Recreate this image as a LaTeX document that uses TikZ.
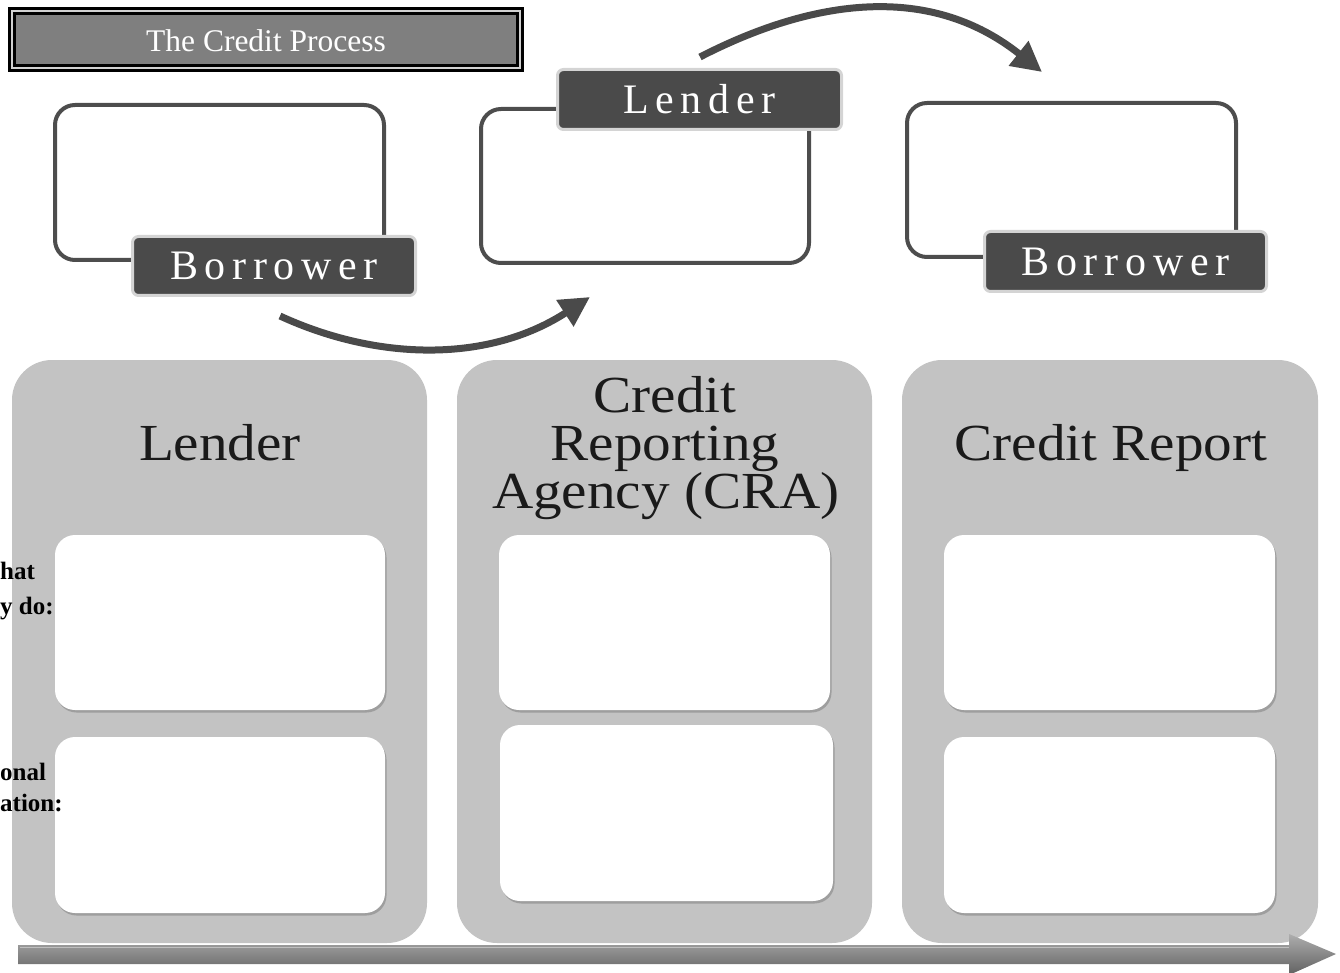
\documentclass[tikz,border=0pt]{standalone}
\usepackage{fontspec}
\setmainfont{Liberation Serif}
\newfontfamily\spaced[LetterSpace=16]{Liberation Serif}
\newfontfamily\wide[FakeStretch=1.1]{Liberation Serif}
\usetikzlibrary{arrows.meta}
\definecolor{dk}{HTML}{4A4A4A}
\definecolor{panel}{HTML}{C3C3C3}
\definecolor{titlegray}{HTML}{7F7F7F}
\definecolor{lblborder}{HTML}{D4D4D4}
\definecolor{outline}{HTML}{4D4D4D}
\definecolor{ink}{HTML}{1A1A1A}
\begin{document}
\begin{tikzpicture}[x=1pt,y=-1pt,
  panelbox/.style={fill=panel,draw=none,rounded corners=40pt,inner sep=0pt},
  outlinebox/.style={draw=outline,line width=4pt,rounded corners=20pt,fill=white,inner sep=0pt},
  labelbox/.style={fill=dk,draw=lblborder,line width=3pt,rounded corners=6pt,inner sep=0pt,
    text=white,font=\spaced\fontsize{42}{44}\selectfont},
  whitebox/.style={fill=white,rounded corners=20pt,inner sep=0pt,
    preaction={fill=black!38,transform canvas={shift={(1.5pt,-2.5pt)}}}},
  ptitle/.style={text=ink,font=\wide\fontsize{52}{52}\selectfont,inner sep=0pt,anchor=base},
  sidetext/.style={text=black,font=\bfseries\fontsize{25}{25}\selectfont,inner sep=0pt,anchor=base west},
  conn/.style={draw=dk,line width=7pt,-{Triangle[length=30pt,width=30pt]}}
]
\useasboundingbox (0,0) rectangle (1340,973);
\clip (0,0) rectangle (1340,973);

% title box
\fill[black] (8,7) rectangle (524,72);
\fill[black!18] (11,10) rectangle (521,69);
\fill[black] (13,12) rectangle (519,67);
\fill[titlegray] (16,15) rectangle (516,64);
\node[text=white,font=\fontsize{31.5}{32}\selectfont,inner sep=0pt,anchor=base] (title) at (266,52) {The Credit Process};

% top flow boxes
\node[outlinebox,minimum width=329pt,minimum height=155pt] (b1) at (219.5,182.5) {};
\node[outlinebox,minimum width=328pt,minimum height=154pt] (b2) at (645,186) {};
\node[outlinebox,minimum width=329pt,minimum height=154pt] (b3) at (1071.5,180) {};

\node[labelbox,minimum width=283pt,minimum height=59pt] (l1) at (274,266) {Borrower\hspace{-6.7pt}};
\node[labelbox,minimum width=284pt,minimum height=60pt] (l2) at (699.5,99.5) {Lender\hspace{-6.7pt}};
\node[labelbox,minimum width=282pt,minimum height=60pt] (l3) at (1125.5,261.5) {Borrower\hspace{-6.7pt}};

% curved arrows
\coordinate (a1s) at (280,316);
\coordinate (a1e) at (590,297);
\draw[conn] (a1s) .. controls (380,362) and (490,362) .. (a1e);
\coordinate (a2s) at (700,57);
\coordinate (a2e) at (1042,72);
\draw[conn] (a2s) .. controls (795,8) and (920,-25) .. (a2e);

% panels
\node[panelbox,minimum width=415pt,minimum height=583pt] (p1) at (219.5,651.5) {};
\node[panelbox,minimum width=415pt,minimum height=583pt] (p2) at (664.5,651.5) {};
\node[panelbox,minimum width=416pt,minimum height=583pt] (p3) at (1110,651.5) {};

\node[ptitle] (t1) at (220,460) {Lender};
\node[ptitle] (t2a) at (665,412) {Credit};
\node[ptitle] (t2b) at (665,460) {Reporting};
\node[ptitle] (t2c) at (666,508) {Agency (CRA)};
\node[ptitle] (t3) at (1111,460) {Credit Report};

% white boxes
\node[whitebox,minimum width=330pt,minimum height=175pt] (w1a) at (220,622.5) {};
\node[whitebox,minimum width=330pt,minimum height=176pt] (w1b) at (220,825) {};
\node[whitebox,minimum width=331pt,minimum height=175pt] (w2a) at (664.5,622.5) {};
\node[whitebox,minimum width=333pt,minimum height=176pt] (w2b) at (666.5,813) {};
\node[whitebox,minimum width=331pt,minimum height=175pt] (w3a) at (1109.5,622.5) {};
\node[whitebox,minimum width=331pt,minimum height=176pt] (w3b) at (1109.5,825) {};

% side labels (as visible at the left edge)
\node[sidetext] (s1) at (0,579) {hat};
\node[sidetext] (s2) at (0,614) {y do:};
\node[sidetext] (s3) at (0,780) {onal};
\node[sidetext] (s4) at (0,811) {ation:};

% bottom timeline arrow
\shade[top color=black!32,bottom color=black!62]
  (18,945) -- (1289,945) -- (1289,934) -- (1336,954) -- (1289,975) -- (1289,964) -- (18,964) -- cycle;
\draw[white!75!black,line width=1pt] (20,947) -- (1289,947);
\end{tikzpicture}
\end{document}
